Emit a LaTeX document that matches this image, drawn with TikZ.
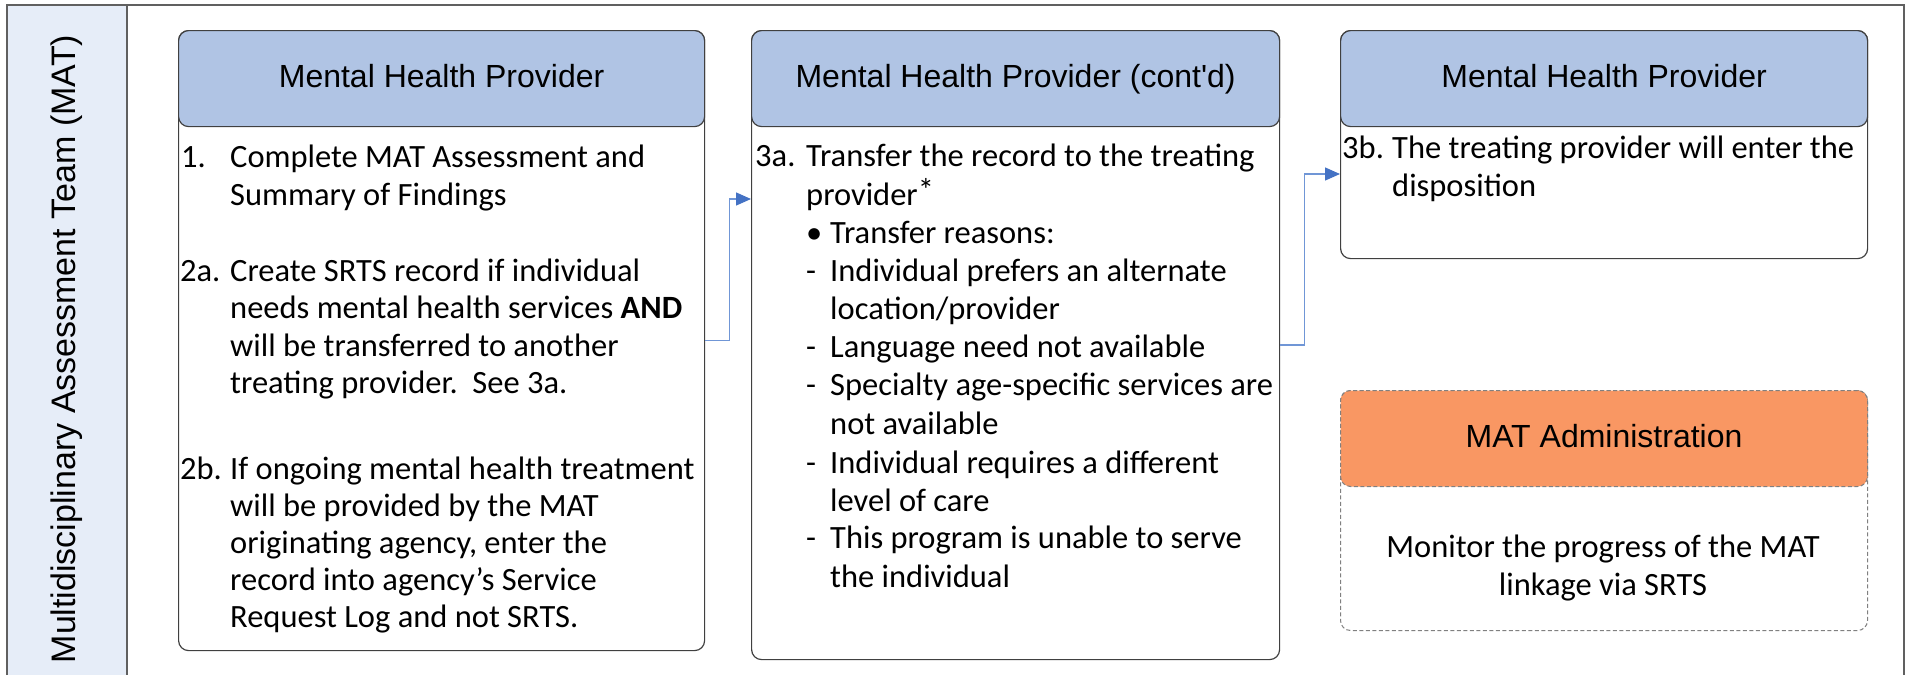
\documentclass[tikz,border=0pt]{standalone}
\usepackage{fontspec}
\setmainfont{Carlito}
\newfontfamily\arialf{Liberation Sans}
\usetikzlibrary{arrows.meta,calc}
\definecolor{hdrblue}{RGB}{176,196,228}
\definecolor{hdrorange}{RGB}{249,151,99}
\definecolor{bandblue}{RGB}{230,237,248}
\definecolor{edgegray}{RGB}{64,64,64}
\definecolor{framegray}{RGB}{96,96,96}
\definecolor{dashgray}{RGB}{128,128,128}
\definecolor{arrowblue}{RGB}{68,114,196}
\definecolor{arrowlinec}{RGB}{112,150,214}
\newcommand\bline[4]{\node[txt] (#1) at (#2,#3) {#4};}
\begin{document}
\begin{tikzpicture}[x=1pt,y=-1pt,
  bodybox/.style={draw=edgegray, line width=1.2pt, rounded corners=10pt, fill=white,
    minimum width=#1, anchor=north west, inner sep=0pt},
  hdrbox/.style={draw=edgegray, line width=1.2pt, rounded corners=10pt, fill=hdrblue,
    minimum width=#1, minimum height=96pt, anchor=north west, inner sep=0pt,
    text height=23pt, text depth=5pt,
    font=\arialf\fontsize{32}{36}\selectfont},
  txt/.style={anchor=base west, inner sep=0pt, font=\fontsize{32.5}{38}\selectfont},
  ctxt/.style={anchor=base, inner sep=0pt, font=\fontsize{32.5}{38}\selectfont},
  conn/.style={draw=arrowlinec, line width=1.3pt, -{Triangle[length=15pt,width=13pt,color=arrowblue]}},
  dashbox/.style={draw=dashgray, line width=1pt, dash pattern=on 4pt off 2.5pt, rounded corners=10pt}
]
\useasboundingbox (0,0) rectangle (1910,675);
\fill[white] (0,0) rectangle (1910,675);
% frame and band
\fill[bandblue] (7,5) rectangle (127,675);
\draw[framegray, line width=1.2pt] (7,675) -- (7,5) -- (1904,5) -- (1904,675);
\draw[framegray, line width=1.2pt] (127,5) -- (127,675);
\node[rotate=90, inner sep=0pt, font=\arialf\fontsize{34}{38}\selectfont] (band) at (67,349) {Multidisciplinary Assessment Team (MAT)};

% box 1
\node[bodybox=526pt, minimum height=620pt] (b1) at (178,30) {};
\node[hdrbox=526pt] (h1) at (178,30) {Mental Health Provider};
\bline{a1}{181}{167}{1.}
\bline{a1t}{230}{167}{Complete MAT Assessment and}
\bline{a1u}{230}{205}{Summary of Findings}
\bline{a2}{180}{281}{2a.}
\bline{a2t}{230}{281}{Create SRTS record if individual}
\bline{a2u}{230}{318}{needs mental health services \textbf{AND}}
\bline{a2v}{230}{356}{will be transferred to another}
\bline{a2w}{230}{393}{treating provider.\ \ See 3a.}
\bline{a3}{180}{479}{2b.}
\bline{a3t}{230}{479}{If ongoing mental health treatment}
\bline{a3u}{230}{516}{will be provided by the MAT}
\bline{a3v}{230}{553}{originating agency, enter the}
\bline{a3w}{230}{590}{record into agency’s Service}
\bline{a3x}{230}{627}{Request Log and not SRTS.}

% box 2
\node[bodybox=528pt, minimum height=629pt] (b2) at (751,30) {};
\node[hdrbox=528pt] (h2) at (751,30) {Mental Health Provider (cont\textquotesingle d)};
\bline{c1}{755}{166}{3a.}
\bline{c1t}{806}{166}{Transfer the record to the treating}
\bline{c1u}{806}{205}{provider\raisebox{4pt}{*}}
\bline{c2}{806}{243}{•}
\bline{c2t}{830}{243}{Transfer reasons:}
\bline{c3}{806}{281}{-}
\bline{c3t}{830}{281}{Individual prefers an alternate}
\bline{c3u}{830}{319}{location/provider}
\bline{c4}{806}{357}{-}
\bline{c4t}{830}{357}{Language need not available}
\bline{c5}{806}{395}{-}
\bline{c5t}{830}{395}{Specialty age-specific services are}
\bline{c5u}{830}{434}{not available}
\bline{c6}{806}{473}{-}
\bline{c6t}{830}{473}{Individual requires a different}
\bline{c6u}{830}{511}{level of care}
\bline{c7}{806}{548}{-}
\bline{c7t}{830}{548}{This program is unable to serve}
\bline{c7u}{830}{587}{the individual}

% box 3
\node[bodybox=527pt, minimum height=228pt] (b3) at (1340,30) {};
\node[hdrbox=527pt] (h3) at (1340,30) {Mental Health Provider};
\bline{d1}{1342}{158}{3b.}
\bline{d1t}{1392}{158}{The treating provider will enter the}
\bline{d1u}{1392}{196}{disposition}

% box 4 (dashed)
\node[dashbox, fill=white, minimum width=527pt, minimum height=240pt, anchor=north west, inner sep=0pt] (b4) at (1340,390) {};
\node[dashbox, fill=hdrorange, minimum width=527pt, minimum height=96pt, anchor=north west, inner sep=0pt,
  text height=23pt, text depth=5pt,
  font=\arialf\fontsize{32}{36}\selectfont] (h4) at (1340,390) {MAT Administration};
\node[ctxt] (e1) at (1603,557) {Monitor the progress of the MAT};
\node[ctxt] (e2) at (1603,595) {linkage via SRTS};

% connectors
\draw[conn] (b1.east) -- ++(24,0) |- ([yshift=-169pt]b2.north west);
\draw[conn] (b2.east) -- ++(24,0) |- ([yshift=-144pt]b3.north west);
\end{tikzpicture}
\end{document}
